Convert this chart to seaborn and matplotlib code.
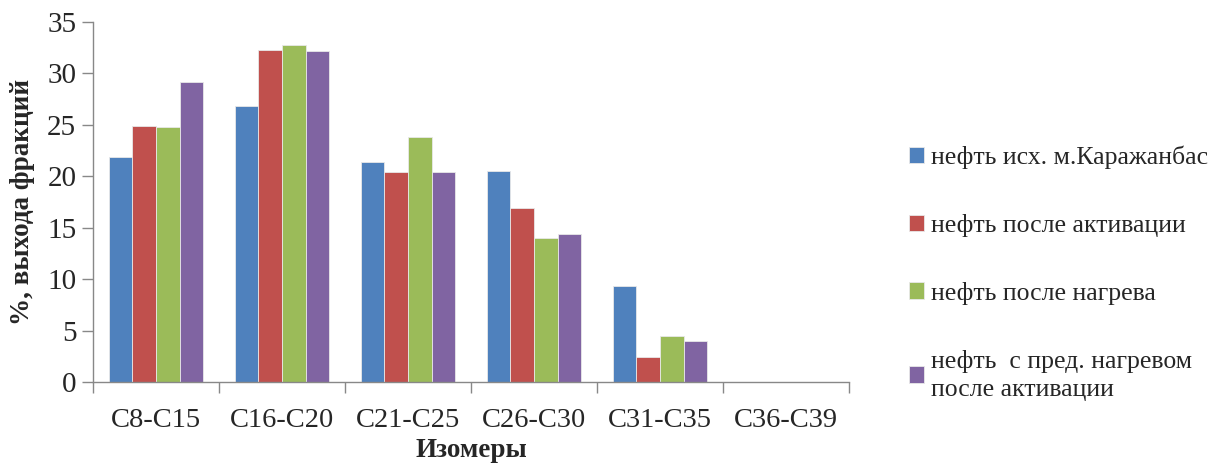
import matplotlib
matplotlib.use("Agg")
import matplotlib.pyplot as plt
import seaborn as sns
import pandas as pd
import numpy as np

categories = ["C8-C15", "C16-C20", "C21-C25", "C26-C30", "C31-C35", "C36-C39"]
series_names = ["нефть исх. м.Каражанбас",
                "нефть после активации",
                "нефть после нагрева",
                "нефть  с пред. нагревом\nпосле активации"]
s_initial = [21.9, 26.8, 21.4, 20.5, 9.3, 0]
s_activation = [24.9, 32.3, 20.4, 16.9, 2.4, 0]
s_heating = [24.8, 32.8, 23.8, 14.0, 4.5, 0]
s_preheat = [29.2, 32.2, 20.4, 14.35, 4.0, 0]
colors = ["#4F81BD", "#C0504D", "#9BBB59", "#8064A2"]
yticks = [0, 5, 10, 15, 20, 25, 30, 35]

rows = []
for name, vals in zip(series_names, [s_initial, s_activation, s_heating, s_preheat]):
    for c, v in zip(categories, vals):
        rows.append({"cat": c, "series": name, "val": v})
df = pd.DataFrame(rows)

sns.set_theme(style="white")
plt.rcParams['font.family'] = ['Liberation Serif', 'DejaVu Serif']

fig = plt.figure(figsize=(12.1, 4.65), dpi=100)
ax = fig.add_axes([93/1210, 1-382/465, (849-93)/1210, (382-22)/465])

sns.barplot(data=df, x="cat", y="val", hue="series", order=categories,
            hue_order=series_names, palette=colors, width=0.75, ax=ax,
            saturation=1, edgecolor="#e8e8e8", linewidth=0.6, legend=True)

ax.set_ylim(0, 35)
ax.set_xlim(-0.5, 5.5)
ax.set_yticks(yticks)
ax.tick_params(axis='y', labelsize=21, length=8, width=1, color="#888888", direction='out', left=True, pad=4)
ax.set_xticks(np.arange(-0.5, 6.0, 1.0), minor=True)
ax.tick_params(axis='x', which='major', length=0, labelsize=20.5, pad=19)
ax.tick_params(axis='x', which='minor', length=8, width=1, color="#888888", direction='out', bottom=True)

for s in ['top', 'right']:
    ax.spines[s].set_visible(False)
for s in ['left', 'bottom']:
    ax.spines[s].set_color("#888888")
    ax.spines[s].set_linewidth(1)

ax.set_xlabel("Изомеры", fontsize=19.5, fontweight='bold', labelpad=3)
ax.set_ylabel("%, выхода фракций", fontsize=19.5, fontweight='bold', labelpad=9)

handles, labels = ax.get_legend_handles_labels()
ax.get_legend().remove()
leg = fig.legend(handles, labels, loc='center left', bbox_to_anchor=(0.732, 0.413),
                 frameon=False, fontsize=18.5, labelspacing=1.75, handlelength=0.6,
                 handleheight=0.6, handletextpad=0.25)
for t in leg.get_texts():
    t.set_linespacing(1.35)

fig.savefig("out.png", dpi=100)
